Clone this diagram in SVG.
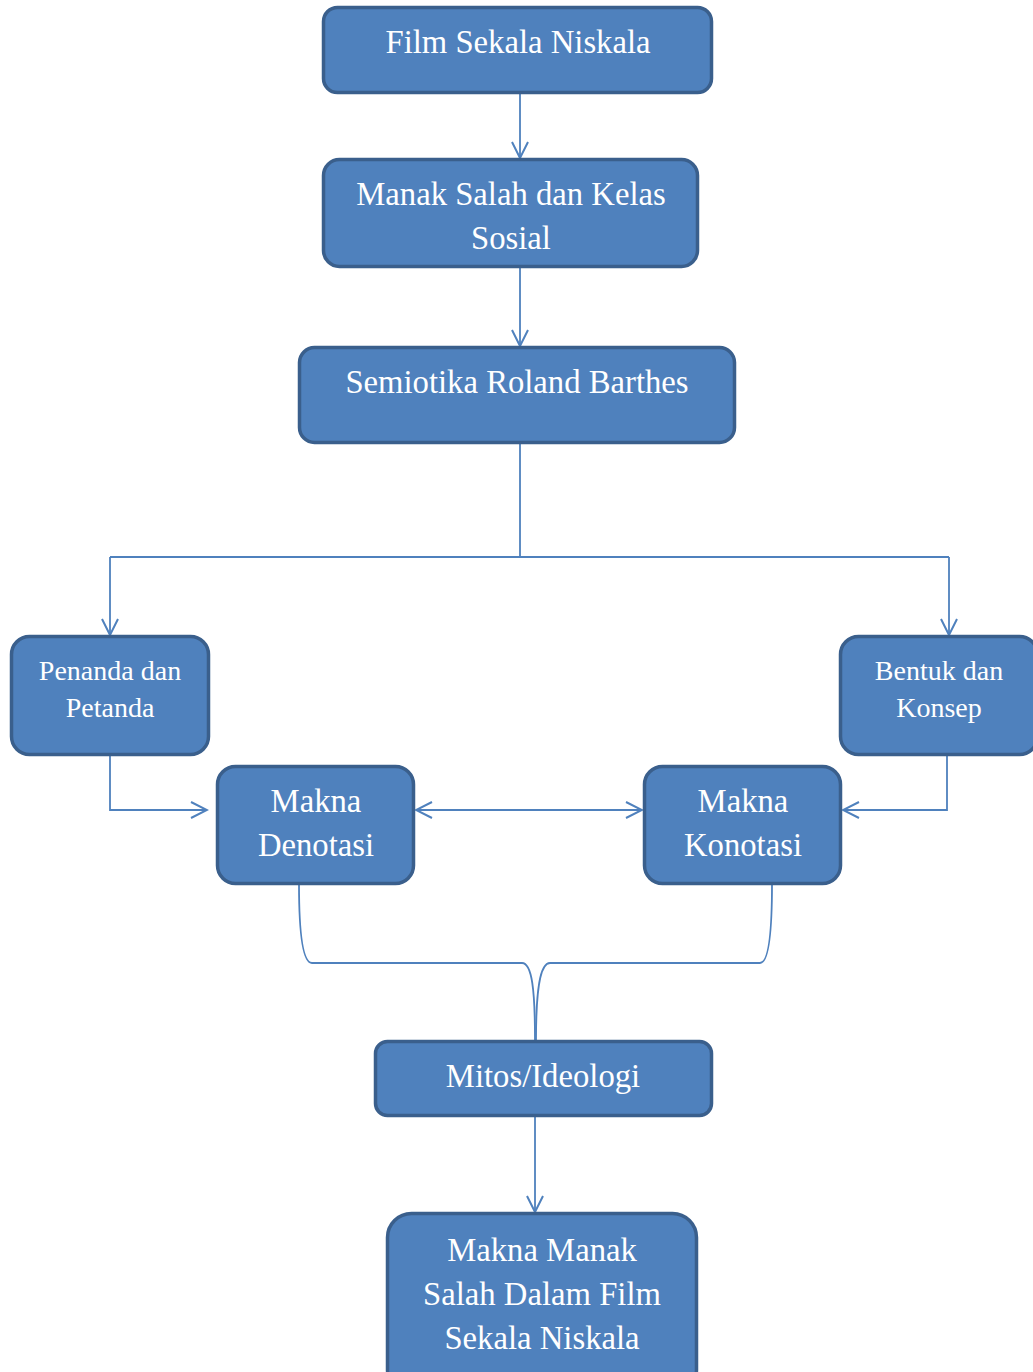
<svg xmlns="http://www.w3.org/2000/svg" width="1033" height="1372" viewBox="0 0 1033 1372">
<style>
.box{fill:#4F81BD;stroke:#3A5F8C;stroke-width:3.5}
.t{font-family:"Liberation Serif","Times New Roman",serif;fill:#FFFFFF;text-anchor:middle;font-size:32.7px}
.s{font-size:28px}
.c{fill:none;stroke:#4F81BD;stroke-width:1.8}
</style>
<defs>
<marker id="a" viewBox="0 0 20 20" refX="18" refY="10" markerWidth="20" markerHeight="20" markerUnits="userSpaceOnUse" orient="auto-start-reverse">
<path d="M2,2 L18,10 L2,18" fill="none" stroke="#4F81BD" stroke-width="2"/>
</marker>
</defs>
<rect width="1033" height="1372" fill="#FFFFFF"/>
<g id="connectors">
<path class="c" d="M520,93 V158" marker-end="url(#a)"/>
<path class="c" d="M520,267 V346" marker-end="url(#a)"/>
<path class="c" d="M520,443 V557"/>
<path class="c" d="M110,557 H949"/>
<path class="c" d="M110,557 V635" marker-end="url(#a)"/>
<path class="c" d="M949,557 V635" marker-end="url(#a)"/>
<path class="c" d="M110,716 V810 H207" marker-end="url(#a)"/>
<path class="c" d="M947,755 V810 H843" marker-end="url(#a)"/>
<path class="c" d="M416,810 H642" marker-start="url(#a)" marker-end="url(#a)"/>
<path class="c" d="M299,884 C299,930 302,963 312,963 H522 C532,963 535,990 535,1040"/>
<path class="c" d="M772,884 C772,930 769,963 760,963 H550 C540,963 536,990 536,1040"/>
<path class="c" d="M535,1116 V1212" marker-end="url(#a)"/>
</g>
<g id="n1"><rect class="box" x="323.5" y="7.5" width="388" height="85" rx="14"/><text class="t" x="518" y="53">Film Sekala Niskala</text></g>
<g id="n2"><rect class="box" x="323.5" y="159.5" width="374" height="107" rx="16"/><text class="t" x="511" y="205">Manak Salah dan Kelas</text><text class="t" x="511" y="249">Sosial</text></g>
<g id="n3"><rect class="box" x="299.5" y="347.5" width="435" height="95" rx="15"/><text class="t" x="517" y="393">Semiotika Roland Barthes</text></g>
<g id="n4"><rect class="box" x="11.5" y="636.5" width="197" height="118" rx="18"/><text class="t s" x="110" y="680">Penanda dan</text><text class="t s" x="110" y="717">Petanda</text></g>
<g id="n5"><rect class="box" x="840.5" y="636.5" width="197" height="118" rx="18"/><text class="t s" x="939" y="680">Bentuk dan</text><text class="t s" x="939" y="717">Konsep</text></g>
<g id="n6"><rect class="box" x="217.5" y="766.5" width="196" height="117" rx="18"/><text class="t" x="316" y="812">Makna</text><text class="t" x="316" y="856">Denotasi</text></g>
<g id="n7"><rect class="box" x="644.5" y="766.5" width="196" height="117" rx="18"/><text class="t" x="743" y="812">Makna</text><text class="t" x="743" y="856">Konotasi</text></g>
<g id="n8"><rect class="box" x="375.5" y="1041.5" width="336" height="74" rx="12"/><text class="t" x="543" y="1087">Mitos/Ideologi</text></g>
<g id="n9"><rect class="box" x="387.5" y="1213.5" width="309" height="180" rx="24"/><text class="t" x="542" y="1261">Makna Manak</text><text class="t" x="542" y="1305">Salah Dalam Film</text><text class="t" x="542" y="1349">Sekala Niskala</text></g>
</svg>
